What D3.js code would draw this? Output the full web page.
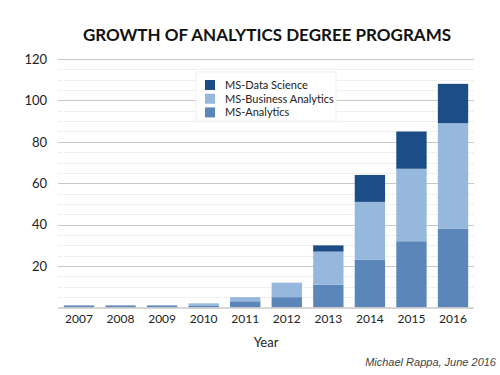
<!DOCTYPE html>
<html>
<head>
<meta charset="utf-8">
<script src="https://cdn.jsdelivr.net/npm/d3@7"></script>
<style>
  body { margin: 0; background: #fff; }
  svg { display: block; }
</style>
</head>
<body>
<script>
// data
var years = ["2007", "2008", "2009", "2010", "2011", "2012", "2013", "2014", "2015", "2016"];
var msAnalytics = [1, 1, 1, 1, 3, 5, 11, 23, 32, 38];
var msBusiness = [0, 0, 0, 1, 2, 7, 16, 28, 35, 51];
var msDataScience = [0, 0, 0, 0, 0, 0, 3, 13, 18, 19];
var seriesNames = ["MS-Analytics", "MS-Business Analytics", "MS-Data Science"];
var seriesColors = ["#5b86ba", "#96b8dc", "#1c4d86"];
var yTicks = [20, 40, 60, 80, 100, 120];

var width = 500, height = 375;
var svg = d3.select("body").append("svg")
    .attr("width", width)
    .attr("height", height);

var x = d3.scaleBand()
    .domain(years)
    .range([58, 474])
    .paddingInner(0.27)
    .paddingOuter(0.14);

var y = d3.scaleLinear()
    .domain([0, 120])
    .range([307.5, 59]);

// minor dotted grid every 5
svg.append("g")
    .selectAll("line")
    .data(d3.range(5, 125, 5).filter(d => d % 20 !== 0))
    .enter().append("line")
    .attr("x1", 58).attr("x2", 474)
    .attr("y1", d => Math.round(y(d)) + 0.5)
    .attr("y2", d => Math.round(y(d)) + 0.5)
    .attr("stroke", "#e2e2e2")
    .attr("stroke-dasharray", "1,1");

// major grid
svg.append("g")
    .selectAll("line")
    .data(yTicks)
    .enter().append("line")
    .attr("x1", 58).attr("x2", 474)
    .attr("y1", d => Math.round(y(d)) + 0.5)
    .attr("y2", d => Math.round(y(d)) + 0.5)
    .attr("stroke", "#c8c8c8");

// stacked bars
var table = years.map((yr, i) => ({
    year: yr,
    "MS-Analytics": msAnalytics[i],
    "MS-Business Analytics": msBusiness[i],
    "MS-Data Science": msDataScience[i]
}));
var stacked = d3.stack().keys(seriesNames)(table);

svg.append("g")
    .selectAll("g")
    .data(stacked)
    .enter().append("g")
    .attr("fill", (d, i) => seriesColors[i])
    .selectAll("rect")
    .data(d => d)
    .enter().append("rect")
    .attr("x", d => x(d.data.year))
    .attr("width", x.bandwidth())
    .attr("y", d => y(d[1]))
    .attr("height", d => y(d[0]) - y(d[1]));

// baseline
svg.append("line")
    .attr("x1", 58).attr("x2", 474)
    .attr("y1", 308).attr("y2", 308)
    .attr("stroke", "#c8c8c8")
    .attr("stroke-width", 1.5);

// y axis labels
var yAxis = d3.axisLeft(y).tickValues(yTicks).tickSize(0).tickPadding(0);
var gy = svg.append("g")
    .attr("transform", "translate(47,0)")
    .call(yAxis);
gy.select(".domain").remove();
gy.selectAll("text")
    .attr("font-family", "Lato, 'Open Sans', sans-serif")
    .attr("font-size", 13)
    .attr("fill", "#222");

// x axis labels
var xAxis = d3.axisBottom(x).tickSize(0).tickPadding(0);
var gx = svg.append("g")
    .attr("transform", "translate(0,314)")
    .call(xAxis);
gx.select(".domain").remove();
gx.selectAll("text")
    .attr("font-family", "Lato, 'Open Sans', sans-serif")
    .attr("font-size", 12)
    .attr("fill", "#222");

// title
svg.append("text")
    .attr("x", 267).attr("y", 41)
    .attr("text-anchor", "middle")
    .attr("font-family", "Lato, 'Open Sans', sans-serif")
    .attr("font-weight", "bold")
    .attr("font-size", 17)
    .attr("fill", "#111")
    .text("GROWTH OF ANALYTICS DEGREE PROGRAMS");

// x title
svg.append("text")
    .attr("x", 266).attr("y", 347)
    .attr("text-anchor", "middle")
    .attr("font-family", "Lato, 'Open Sans', sans-serif")
    .attr("font-size", 13)
    .attr("fill", "#222")
    .text("Year");

// credit
svg.append("text")
    .attr("x", 496).attr("y", 366)
    .attr("text-anchor", "end")
    .attr("font-family", "'Liberation Sans', Arial, sans-serif")
    .attr("font-style", "italic")
    .attr("font-size", 11)
    .attr("fill", "#444")
    .text("Michael Rappa, June 2016");

// legend
var legend = svg.append("g").attr("transform", "translate(196,72)");
legend.append("rect")
    .attr("width", 140).attr("height", 49)
    .attr("fill", "#fff")
    .attr("stroke", "#f0f0f0");
var legendOrder = [2, 1, 0];
legend.selectAll("g")
    .data(legendOrder)
    .enter().append("g")
    .attr("transform", (d, i) => "translate(9," + (8 + i * 13.7) + ")")
    .each(function(d) {
        var g = d3.select(this);
        g.append("rect")
            .attr("width", 10).attr("height", 10)
            .attr("fill", seriesColors[d]);
        g.append("text")
            .attr("x", 20).attr("y", 9)
            .attr("font-family", "Lato, 'Open Sans', sans-serif")
            .attr("font-size", 11)
            .attr("fill", "#222")
            .text(seriesNames[d]);
    });
</script>
</body>
</html>
